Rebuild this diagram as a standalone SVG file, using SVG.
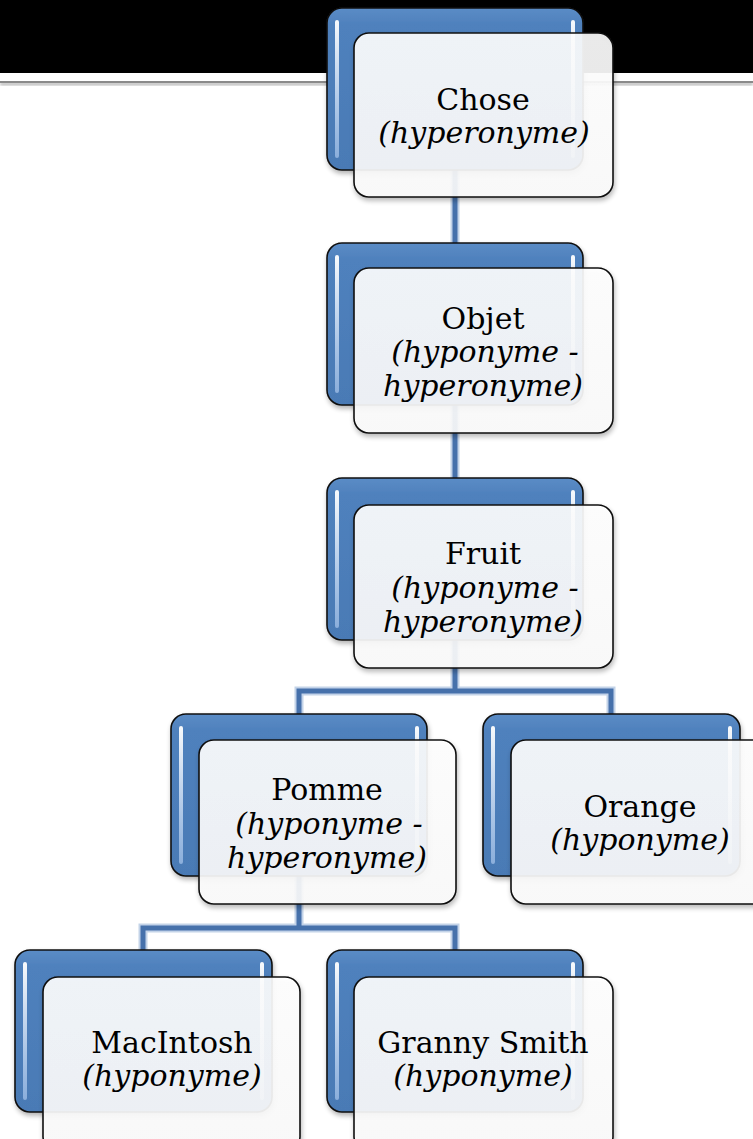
<svg xmlns="http://www.w3.org/2000/svg" width="753" height="1139" viewBox="0 0 753 1139">
<style>
.back{fill:url(#gBlue);stroke:#111;stroke-width:1.6}
.hl{fill:none;stroke:url(#gHl);stroke-width:4;stroke-linecap:round}
.front{fill:url(#gFront);fill-opacity:0.9;stroke:#111;stroke-width:1.6}
.t{font-family:"DejaVu Serif",serif;font-size:30px;fill:#000;text-anchor:middle}
.i{font-style:italic}
.cOut{fill:none;stroke:#c3d3e8;stroke-width:9}
.cIn{fill:none;stroke:#4671ab;stroke-width:5}
</style>
<defs>
<linearGradient id="gBlue" x1="0" y1="0" x2="0" y2="1">
<stop offset="0" stop-color="#5b8cc6"/>
<stop offset="0.1" stop-color="#4f81bd"/>
<stop offset="1" stop-color="#4a7ab5"/>
</linearGradient>
<linearGradient id="gHl" x1="0" y1="0" x2="0" y2="1">
<stop offset="0" stop-color="#ffffff" stop-opacity="0.95"/>
<stop offset="1" stop-color="#a9c6ec" stop-opacity="0.7"/>
</linearGradient>
<linearGradient id="gFront" x1="0" y1="0" x2="0" y2="1">
<stop offset="0" stop-color="#ffffff"/>
<stop offset="1" stop-color="#fbfbfb"/>
</linearGradient>
<filter id="sh" x="-10%" y="-10%" width="125%" height="130%">
<feGaussianBlur in="SourceAlpha" stdDeviation="2.5"/>
<feOffset dx="1" dy="3" result="b"/>
<feComponentTransfer><feFuncA type="linear" slope="0.3"/></feComponentTransfer>
<feMerge><feMergeNode/><feMergeNode in="SourceGraphic"/></feMerge>
</filter>
<filter id="lineSh" x="-10%" y="-50%" width="120%" height="300%">
<feGaussianBlur in="SourceAlpha" stdDeviation="1.5"/>
<feOffset dx="0" dy="2"/>
<feComponentTransfer><feFuncA type="linear" slope="0.4"/></feComponentTransfer>
<feMerge><feMergeNode/><feMergeNode in="SourceGraphic"/></feMerge>
</filter>
</defs>

<g id="header">
<rect x="0" y="0" width="753" height="73" fill="#000"/>
<rect x="0" y="81" width="753" height="2" fill="#8a8a8a" filter="url(#lineSh)"/>
</g>

<g id="connectors">
<path class="cOut" d="M455 170 V243 M455 405 V478 M455 640 V691 M299 714 V691 H611 V714 M299 876 V928 M143 950 V928 H455 V950"/>
<path class="cIn" d="M455 170 V243 M455 405 V478 M455 640 V691 M299 714 V691 H611 V714 M299 876 V928 M143 950 V928 H455 V950"/>
</g>

<g id="chose">
<rect class="back" x="327" y="8" width="256" height="162" rx="15" filter="url(#sh)"/>
<path class="hl" d="M337 22 V156 M573 22 V156"/>
<rect class="front" x="354" y="33" width="259" height="164" rx="15" filter="url(#sh)"/>
<text class="t" x="483" y="110">Chose</text>
<text class="t i" x="484" y="143">(hyperonyme)</text>
</g>

<g id="objet">
<rect class="back" x="327" y="243" width="256" height="162" rx="15" filter="url(#sh)"/>
<path class="hl" d="M337 257 V391 M573 257 V391"/>
<rect class="front" x="354" y="268" width="259" height="165" rx="15" filter="url(#sh)"/>
<text class="t" x="483" y="329">Objet</text>
<text class="t i" x="485" y="362">(hyponyme -</text>
<text class="t i" x="483" y="396">hyperonyme)</text>
</g>

<g id="fruit">
<rect class="back" x="327" y="478" width="256" height="162" rx="15" filter="url(#sh)"/>
<path class="hl" d="M337 492 V626 M573 492 V626"/>
<rect class="front" x="354" y="505" width="259" height="163" rx="15" filter="url(#sh)"/>
<text class="t" x="483" y="564">Fruit</text>
<text class="t i" x="485" y="598">(hyponyme -</text>
<text class="t i" x="483" y="632">hyperonyme)</text>
</g>

<g id="pomme">
<rect class="back" x="171" y="714" width="256" height="162" rx="15" filter="url(#sh)"/>
<path class="hl" d="M181 728 V862 M417 728 V862"/>
<rect class="front" x="199" y="740" width="257" height="164" rx="15" filter="url(#sh)"/>
<text class="t" x="327" y="800">Pomme</text>
<text class="t i" x="329" y="834">(hyponyme -</text>
<text class="t i" x="327" y="868">hyperonyme)</text>
</g>

<g id="orange">
<rect class="back" x="483" y="714" width="257" height="162" rx="15" filter="url(#sh)"/>
<path class="hl" d="M493 728 V862 M730 728 V862"/>
<rect class="front" x="511" y="740" width="258" height="164" rx="15" filter="url(#sh)"/>
<text class="t" x="640" y="817">Orange</text>
<text class="t i" x="640" y="850">(hyponyme)</text>
</g>

<g id="macintosh">
<rect class="back" x="15" y="950" width="257" height="162" rx="15" filter="url(#sh)"/>
<path class="hl" d="M25 964 V1098 M262 964 V1098"/>
<rect class="front" x="43" y="977" width="257" height="175" rx="15" filter="url(#sh)"/>
<text class="t" x="172" y="1053">MacIntosh</text>
<text class="t i" x="172" y="1086">(hyponyme)</text>
</g>

<g id="granny">
<rect class="back" x="327" y="950" width="256" height="162" rx="15" filter="url(#sh)"/>
<path class="hl" d="M337 964 V1098 M573 964 V1098"/>
<rect class="front" x="354" y="977" width="259" height="175" rx="15" filter="url(#sh)"/>
<text class="t" x="483" y="1053">Granny Smith</text>
<text class="t i" x="483" y="1086">(hyponyme)</text>
</g>
</svg>
